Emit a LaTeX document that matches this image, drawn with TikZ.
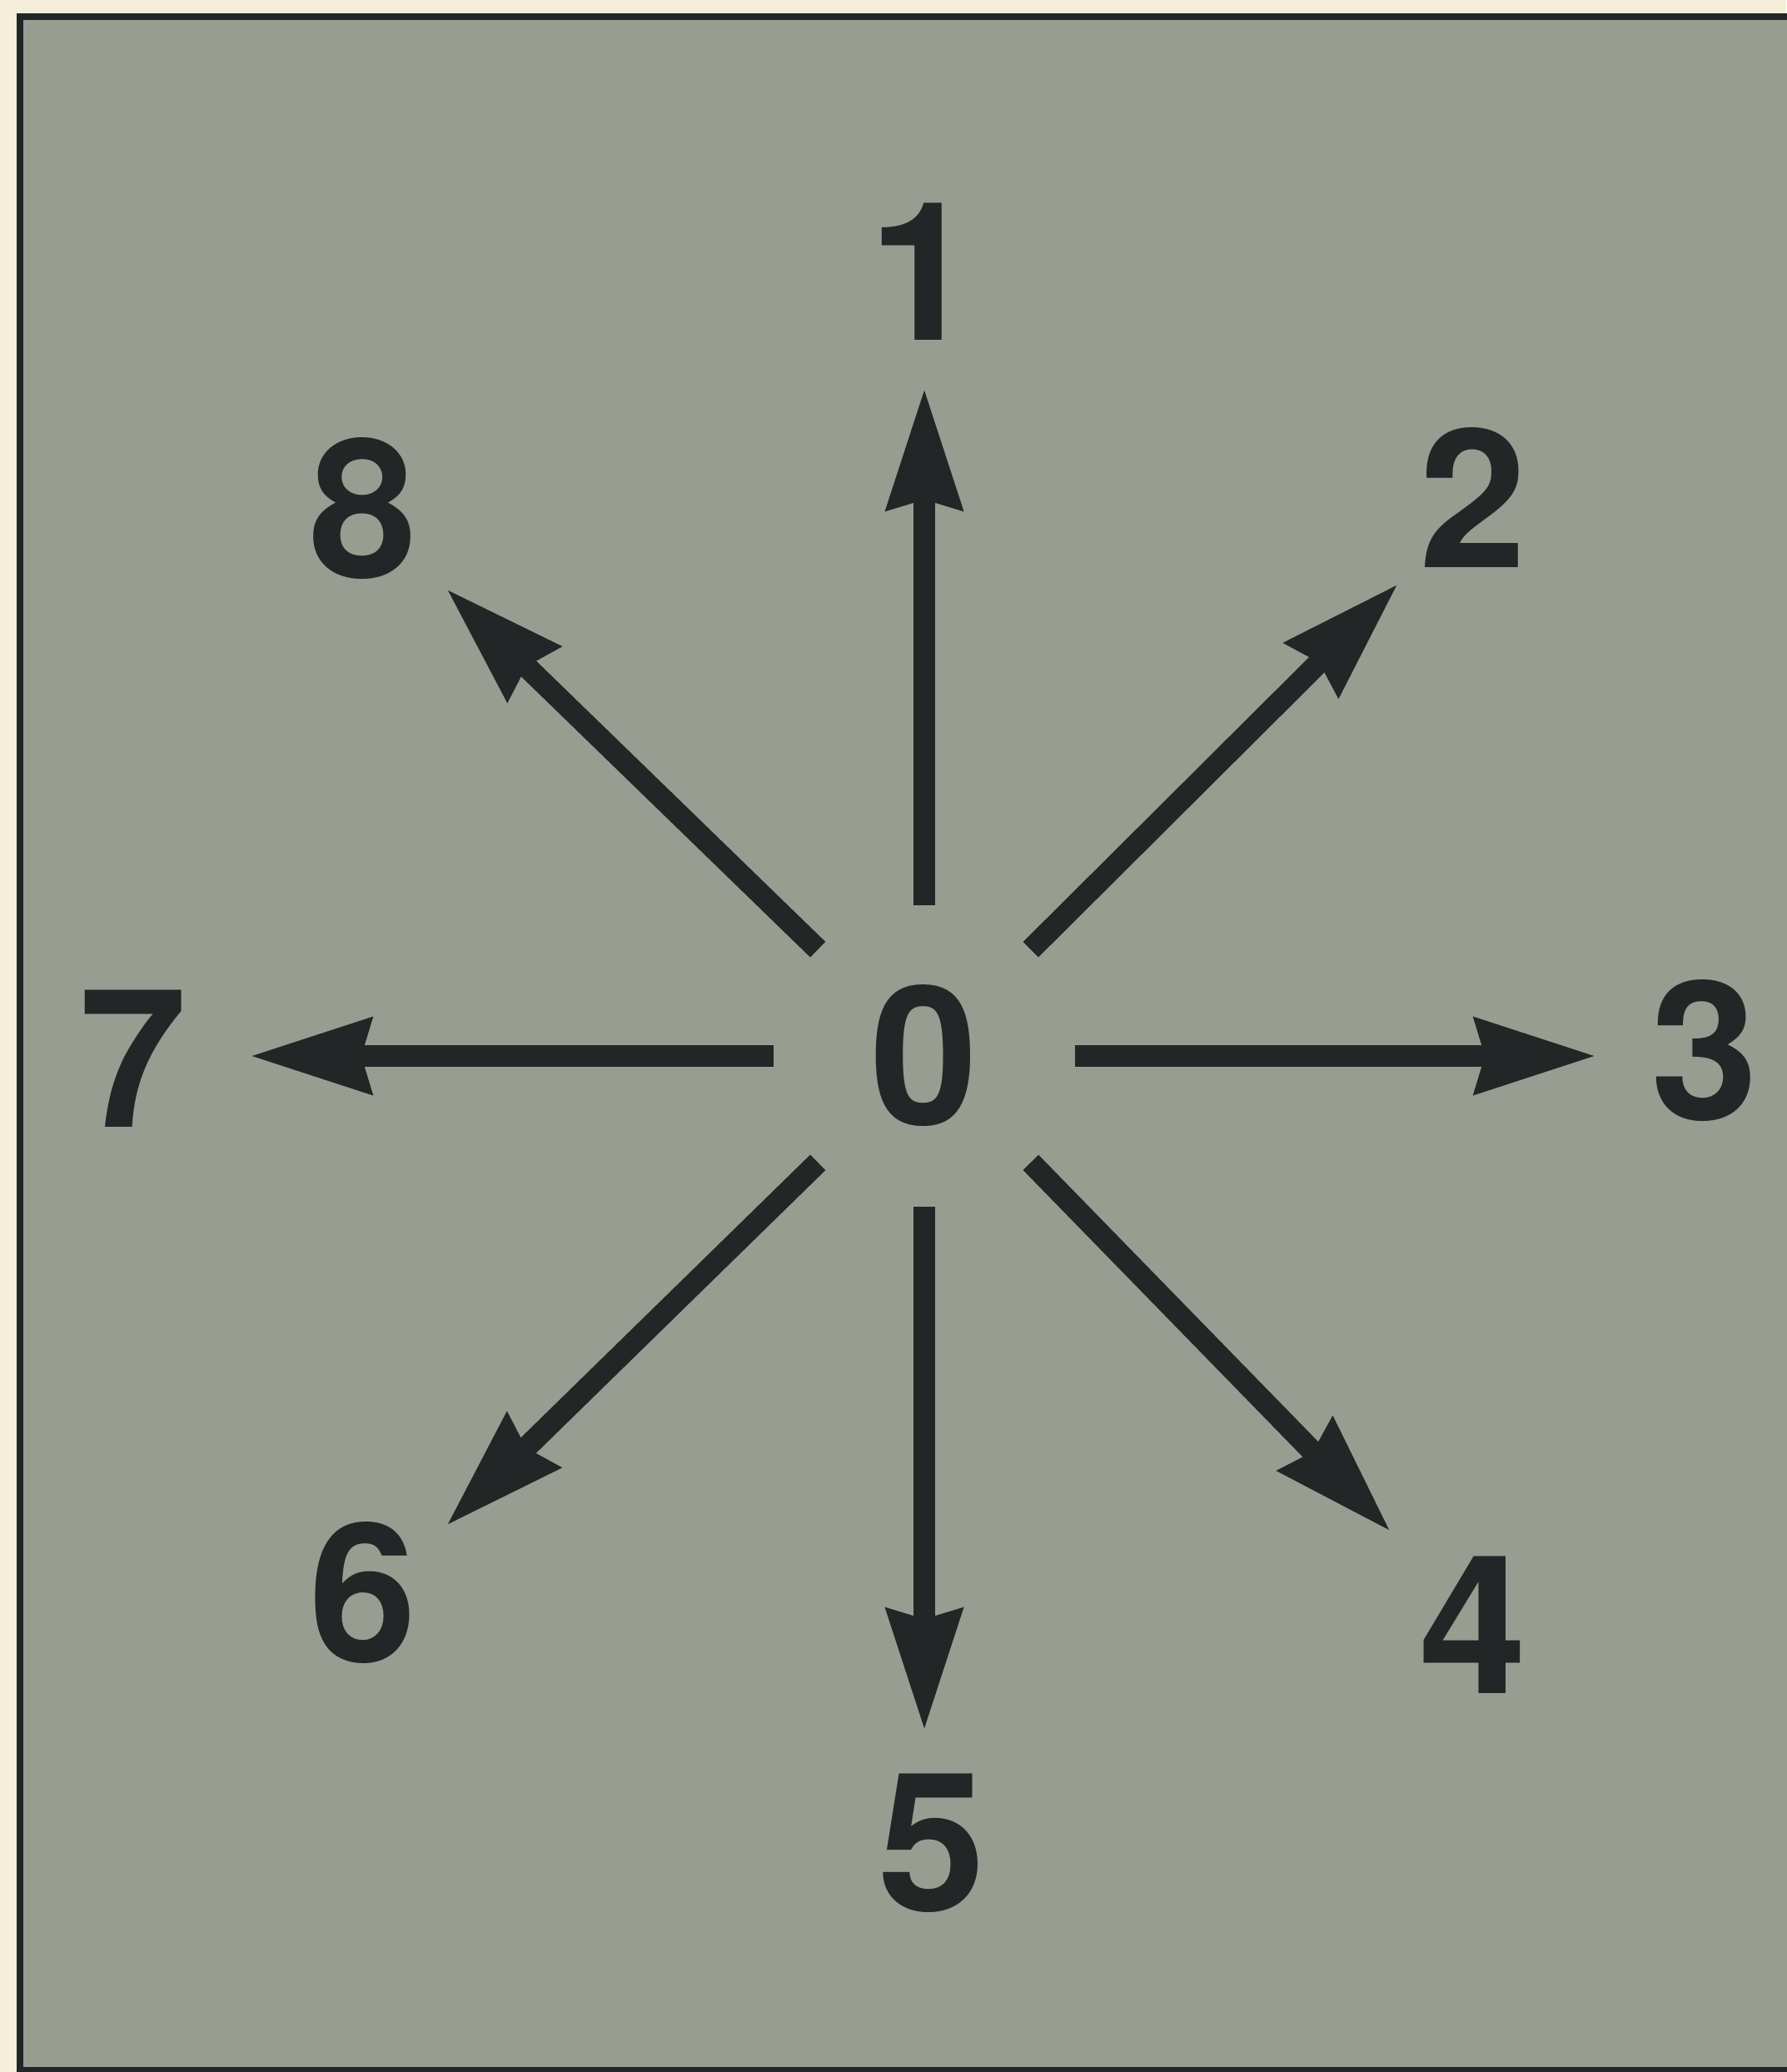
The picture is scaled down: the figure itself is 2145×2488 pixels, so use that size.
\documentclass[tikz,border=0pt]{standalone}
\usepackage{fontspec}
\setmainfont{TeX Gyre Heros}
\usetikzlibrary{arrows.meta}
\definecolor{paper}{RGB}{244,238,218}
\definecolor{board}{RGB}{152,157,146}
\definecolor{ink}{RGB}{34,38,38}
\tikzset{
  lbl/.style={text=ink, inner sep=0pt, font=\fontsize{66}{68}\selectfont\bfseries},
  centre/.style={lbl, circle, minimum size=3.6cm},
  arr/.style={draw=ink, line width=7.4pt, line cap=butt,
    -{Stealth[length=41pt, width=25pt, inset=3pt]}}
}
\begin{document}
\begin{tikzpicture}[x=0.01cm, y=-0.01cm]
  \useasboundingbox (0,0) rectangle (2145,2488);
  \fill[paper] (0,0) rectangle (2145,2488);
  \filldraw[fill=board, draw=ink, line width=2.3pt] (24,20) rectangle (2200,2486);
  % centre and labels
  \node[centre] (O) at (1110,1268) {0};
  \node[lbl] (n1) at (1108,326) {1};
  \node[lbl] (n2) at (1769,597) {2};
  \node[lbl] (n3) at (2047,1262) {3};
  \node[lbl] (n4) at (1769,1951) {4};
  \node[lbl] (n5) at (1119,2213) {5};
  \node[lbl] (n6) at (436,1912) {6};
  \node[lbl] (n7) at (160,1271) {7};
  \node[lbl] (n8) at (436,611) {8};
  % arrow tips
  \coordinate (t1) at (1110,466);
  \coordinate (t2) at (1679,701);
  \coordinate (t3) at (1917,1268);
  \coordinate (t4) at (1670,1839);
  \coordinate (t5) at (1110,2078);
  \coordinate (t6) at (536,1832);
  \coordinate (t7) at (300,1268);
  \coordinate (t8) at (536,707);
  \draw[arr] (O.north) -- (t1);
  \draw[arr] (O.north east) -- (t2);
  \draw[arr] (O.east) -- (t3);
  \draw[arr] (O.south east) -- (t4);
  \draw[arr] (O.south) -- (t5);
  \draw[arr] (O.south west) -- (t6);
  \draw[arr] (O.west) -- (t7);
  \draw[arr] (O.north west) -- (t8);
\end{tikzpicture}
\end{document}
